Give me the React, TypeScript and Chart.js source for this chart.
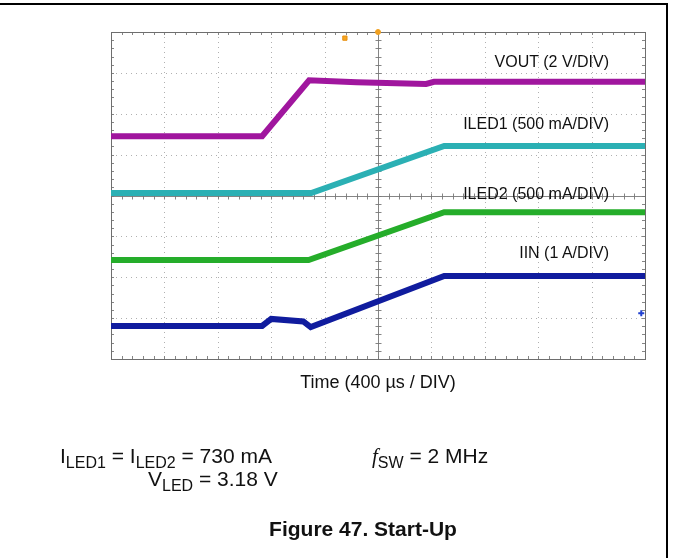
import React, { useEffect, useRef } from "react";
import { Chart, registerables } from "chart.js";

Chart.register(...registerables);

// Scope screen: 10 horizontal divisions, 8 vertical divisions
const X_DIVS = 10;
const Y_DIVS = 8;

// Trace vertices in divisions (x: time div, y: vertical div from bottom)
const voutX = [0, 2.83, 3.71, 4.6, 5.9, 6.05, 10];
const voutY = [5.45, 5.45, 6.82, 6.77, 6.73, 6.78, 6.78];

const iled1X = [0, 3.75, 6.24, 10];
const iled1Y = [4.06, 4.06, 5.21, 5.21];

const iled2X = [0, 3.7, 6.24, 10];
const iled2Y = [2.42, 2.42, 3.59, 3.59];

const iinX = [0, 2.83, 3.0, 3.6, 3.74, 6.24, 10];
const iinY = [0.81, 0.81, 0.98, 0.92, 0.78, 2.03, 2.03];

const traceLabels = ["VOUT (2 V/DIV)", "ILED1 (500 mA/DIV)", "ILED2 (500 mA/DIV)", "IIN (1 A/DIV)"];
const traceColors = ["#a0169e", "#2bb0b4", "#25ad2a", "#101c9e"];

// Scope markers
const trigPosX = [5];
const trigPosY = [8];
const trigMarkX = [4.38];
const trigMarkY = [7.85];
const refMarkX = [9.93];
const refMarkY = [1.12];

const toPts = (xs: number[], ys: number[]) => xs.map((x, i) => ({ x, y: ys[i] }));

const gridPlugin = {
  id: "scopeGrid",
  beforeDatasetsDraw(chart: any) {
    const { ctx, chartArea: a, scales } = chart;
    const xs = scales.x;
    const ys = scales.y;
    ctx.save();
    // dotted grid
    ctx.strokeStyle = "rgba(150,150,150,0.75)";
    ctx.lineWidth = 1;
    ctx.setLineDash([1, 4]);
    for (let i = 1; i < X_DIVS; i++) {
      if (i === X_DIVS / 2) continue;
      const px = Math.round(xs.getPixelForValue(i)) + 0.5;
      ctx.beginPath();
      ctx.moveTo(px, a.top);
      ctx.lineTo(px, a.bottom);
      ctx.stroke();
    }
    for (let j = 1; j < Y_DIVS; j++) {
      if (j === Y_DIVS / 2) continue;
      const py = Math.round(ys.getPixelForValue(j)) + 0.5;
      ctx.beginPath();
      ctx.moveTo(a.left, py);
      ctx.lineTo(a.right, py);
      ctx.stroke();
    }
    ctx.setLineDash([]);
    // center crosshair with minor ticks
    ctx.strokeStyle = "rgba(120,120,120,0.9)";
    const cx = Math.round(xs.getPixelForValue(X_DIVS / 2)) + 0.5;
    const cy = Math.round(ys.getPixelForValue(Y_DIVS / 2)) + 0.5;
    ctx.beginPath();
    ctx.moveTo(cx, a.top);
    ctx.lineTo(cx, a.bottom);
    ctx.moveTo(a.left, cy);
    ctx.lineTo(a.right, cy);
    for (let k = 0; k <= X_DIVS * 5; k++) {
      const px = Math.round(xs.getPixelForValue(k / 5)) + 0.5;
      ctx.moveTo(px, cy - 3);
      ctx.lineTo(px, cy + 3);
      ctx.moveTo(px, a.top);
      ctx.lineTo(px, a.top + 3);
      ctx.moveTo(px, a.bottom);
      ctx.lineTo(px, a.bottom - 3);
    }
    for (let k = 0; k <= Y_DIVS * 5; k++) {
      const py = Math.round(ys.getPixelForValue(k / 5)) + 0.5;
      ctx.moveTo(cx - 3, py);
      ctx.lineTo(cx + 3, py);
      ctx.moveTo(a.left, py);
      ctx.lineTo(a.left + 3, py);
      ctx.moveTo(a.right, py);
      ctx.lineTo(a.right - 3, py);
    }
    ctx.stroke();
    // frame
    ctx.strokeStyle = "rgba(110,110,110,1)";
    ctx.strokeRect(Math.round(a.left) + 0.5, Math.round(a.top) + 0.5, Math.round(a.right - a.left), Math.round(a.bottom - a.top));
    ctx.restore();
  },
};

export default function App() {
  const ref = useRef<HTMLCanvasElement | null>(null);

  useEffect(() => {
    if (!ref.current) return;
    const series = [
      toPts(voutX, voutY),
      toPts(iled1X, iled1Y),
      toPts(iled2X, iled2Y),
      toPts(iinX, iinY),
    ];
    const datasets: any[] = series.map((data, i) => ({
      type: "line",
      label: traceLabels[i],
      data,
      borderColor: traceColors[i],
      borderWidth: 6,
      pointRadius: 0,
      tension: 0,
      fill: false,
      borderJoinStyle: "miter",
    }));
    datasets.push(
      {
        type: "scatter",
        label: "trig",
        data: toPts(trigPosX, trigPosY),
        pointRadius: 2.5,
        backgroundColor: "#f0a020",
        borderColor: "#f0a020",
        clip: false,
      },
      {
        type: "scatter",
        label: "tmark",
        data: toPts(trigMarkX, trigMarkY),
        pointStyle: "rect",
        pointRadius: 3,
        backgroundColor: "#f5a623",
        borderColor: "#e89010",
        borderWidth: 1,
        clip: false,
      },
      {
        type: "scatter",
        label: "ref",
        data: toPts(refMarkX, refMarkY),
        pointStyle: "cross",
        pointRadius: 3,
        borderWidth: 2,
        borderColor: "#2040d0",
        clip: false,
      }
    );
    const chart = new Chart(ref.current, {
      type: "line",
      data: { datasets },
      options: {
        animation: false,
        responsive: false,
        maintainAspectRatio: false,
        layout: { padding: { left: 111, top: 32, right: 28, bottom: 199 } },
        plugins: { legend: { display: false }, tooltip: { enabled: false } },
        scales: {
          x: { type: "linear", min: 0, max: X_DIVS, display: false },
          y: { type: "linear", min: 0, max: Y_DIVS, display: false },
        },
      },
      plugins: [gridPlugin],
    });
    return () => chart.destroy();
  }, []);

  const font = "'Liberation Sans', Arial, sans-serif";
  const lbl = (text: string, top: number): React.ReactNode => (
    <div
      key={text}
      style={{ position: "absolute", right: 64, top, fontSize: 16, lineHeight: 1, fontFamily: font, color: "#111", whiteSpace: "nowrap" }}
    >
      {text}
    </div>
  );
  const sub: React.CSSProperties = { fontSize: 16, position: "relative", top: 5 };

  return (
    <div style={{ position: "fixed", left: 0, top: 0, width: 673, height: 558, background: "#fff", overflow: "hidden" }}>
      <canvas ref={ref} width={673} height={558} style={{ position: "absolute", left: 0, top: 0, width: 673, height: 558 }} />
      <div style={{ position: "absolute", left: 0, top: 3, width: 668, height: 2, background: "#000" }} />
      <div style={{ position: "absolute", left: 666, top: 3, width: 2, height: 560, background: "#000" }} />
      {lbl(traceLabels[0], 54)}
      {lbl(traceLabels[1], 116)}
      {lbl(traceLabels[2], 186)}
      {lbl(traceLabels[3], 245)}
      <div style={{ position: "absolute", left: 378, top: 373, transform: "translateX(-50%)", fontSize: 18, lineHeight: 1, fontFamily: font, whiteSpace: "nowrap", color: "#111" }}>
        Time (400 µs / DIV)
      </div>
      <div style={{ position: "absolute", left: 60, top: 445, fontSize: 21, lineHeight: 1, fontFamily: font, whiteSpace: "nowrap", color: "#111" }}>
        I<span style={sub}>LED1</span> = I<span style={sub}>LED2</span> = 730 mA
      </div>
      <div style={{ position: "absolute", left: 148, top: 468, fontSize: 21, lineHeight: 1, fontFamily: font, whiteSpace: "nowrap", color: "#111" }}>
        V<span style={sub}>LED</span> = 3.18 V
      </div>
      <div style={{ position: "absolute", left: 372, top: 445, fontSize: 21, lineHeight: 1, fontFamily: font, whiteSpace: "nowrap", color: "#111" }}>
        <span style={{ fontFamily: "'Liberation Serif', serif", fontStyle: "italic" }}>f</span>
        <span style={sub}>SW</span> = 2 MHz
      </div>
      <div style={{ position: "absolute", left: 363, top: 518, transform: "translateX(-50%)", fontSize: 21, fontWeight: "bold", lineHeight: 1, fontFamily: font, whiteSpace: "nowrap", color: "#111" }}>
        Figure 47. Start-Up
      </div>
    </div>
  );
}
